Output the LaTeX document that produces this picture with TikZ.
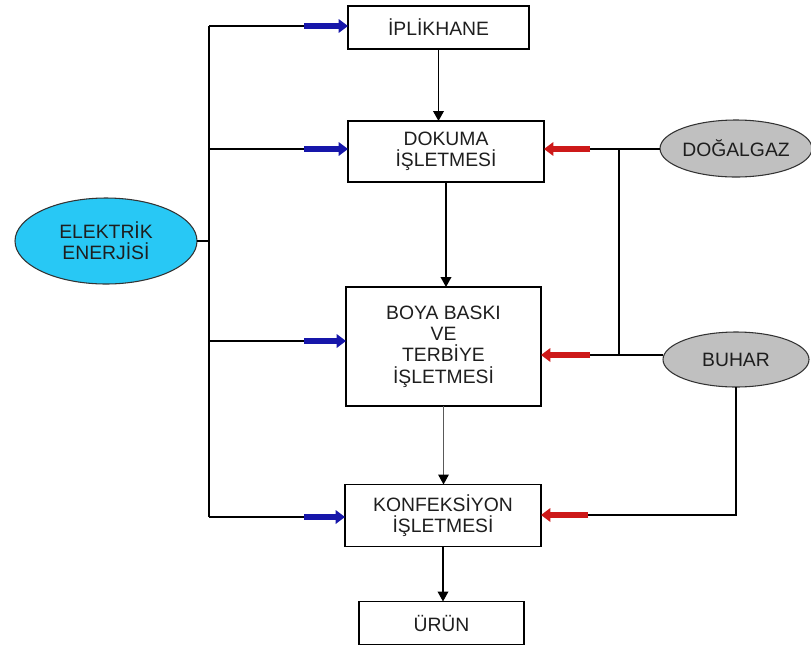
\documentclass[tikz,border=0pt]{standalone}
\usepackage{fontspec}
\setmainfont{Liberation Sans}
\usetikzlibrary{arrows.meta,shapes.geometric,calc}
\definecolor{bluearr}{RGB}{22,22,170}
\definecolor{redarr}{RGB}{205,25,25}
\definecolor{elekfill}{RGB}{40,200,245}
\definecolor{gasfill}{RGB}{192,192,192}
\definecolor{txt}{RGB}{30,30,30}
\begin{document}
\begin{tikzpicture}[x=0.75pt,y=-0.75pt,font=\fontsize{14.5}{15.9}\selectfont,
  box/.style={draw=black,line width=1.4pt,rectangle,inner sep=0pt,outer sep=0pt,align=center,text=txt},
  oval/.style={ellipse,draw=black!80,line width=0.8pt,inner sep=0pt,outer sep=0pt,align=center,text=txt},
  conn/.style={line width=1.1pt,black},
  flow/.style={line width=1.1pt,black,-{Triangle[length=7.5pt,width=8pt]}},
  flowgray/.style={line width=0.9pt,black!65,-{Triangle[length=7.5pt,width=8pt,color=black]}},
  feedb/.style={line width=5pt,bluearr,-{Triangle[length=7pt,width=10pt]}},
  feedr/.style={line width=5pt,redarr,-{Triangle[length=7pt,width=10pt]}}]
\useasboundingbox (0,0) rectangle (811,651);
% boxes
\node[box,minimum width=135.75pt,minimum height=32.25pt] (ipl) at (438.5,27.5) {İPLİKHANE};
\node[box,minimum width=147pt,minimum height=45.75pt] (dok) at (446,151.5) {DOKUMA\\İŞLETMESİ};
\node[box,minimum width=146.25pt,minimum height=89.25pt] (boya) at (443.5,346.5) {BOYA BASKI\\VE\\TERBİYE\\İŞLETMESİ};
\node[box,minimum width=147pt,minimum height=46.5pt] (konf) at (443,515.5) {KONFEKSİYON\\İŞLETMESİ};
\node[box,minimum width=123.75pt,minimum height=32.25pt] (urun) at (441.5,623) {ÜRÜN};
% ellipses
\node[oval,fill=elekfill,minimum width=136.5pt,minimum height=64.5pt] (elek) at (106,241) {ELEKTRİK\\ENERJİSİ};
\node[oval,fill=gasfill,minimum width=109.5pt,minimum height=42.75pt] (dog) at (736,148.5) {DOĞALGAZ};
\node[oval,fill=gasfill,minimum width=109.5pt,minimum height=41.25pt] (buhar) at (736,359.5) {BUHAR};
% coordinates
\coordinate (bus1) at (209,26);
\coordinate (bus4) at (209,517);
\coordinate (busE) at (209,241);
\coordinate (bt1) at (304,26);
\coordinate (bt2) at (304,149);
\coordinate (bt3) at (304,341);
\coordinate (bt4) at (304,517);
\coordinate (rt1) at (590,149);
\coordinate (rt2) at (590,355);
\coordinate (rt3) at (588,515);
\coordinate (vt) at (619,149);
\coordinate (vb) at (619,355);
% electric bus
\draw[conn] (bus1) -- (bus4);
\draw[conn] (elek.east) -- (busE);
\draw[conn] (bus1) -- (bt1);
\draw[conn] (bus1 |- bt2) -- (bt2);
\draw[conn] (bus1 |- bt3) -- (bt3);
\draw[conn] (bus4) -- (bt4);
\draw[feedb] (bt1) -- (bt1 -| ipl.west);
\draw[feedb] (bt2) -- (bt2 -| dok.west);
\draw[feedb] (bt3) -- (bt3 -| boya.west);
\draw[feedb] (bt4) -- (bt4 -| konf.west);
% gas and steam
\draw[conn] (dog.west |- rt1) -- (rt1);
\draw[conn] (vt) -- (vb);
\draw[conn] (buhar.west |- rt2) -- (rt2);
\draw[conn] (buhar.south) -- (buhar.south |- rt3) -- (rt3);
\draw[feedr] (rt1) -- (rt1 -| dok.east);
\draw[feedr] (rt2) -- (rt2 -| boya.east);
\draw[feedr] (rt3) -- (rt3 -| konf.east);
% main flow
\draw[flow] (ipl.south) -- (ipl.south |- dok.north);
\draw[flow] (dok.south) -- (dok.south |- boya.north);
\draw[flowgray] (boya.south) -- (boya.south |- konf.north);
\draw[flow] (konf.south) -- (konf.south |- urun.north);
\end{tikzpicture}
\end{document}
